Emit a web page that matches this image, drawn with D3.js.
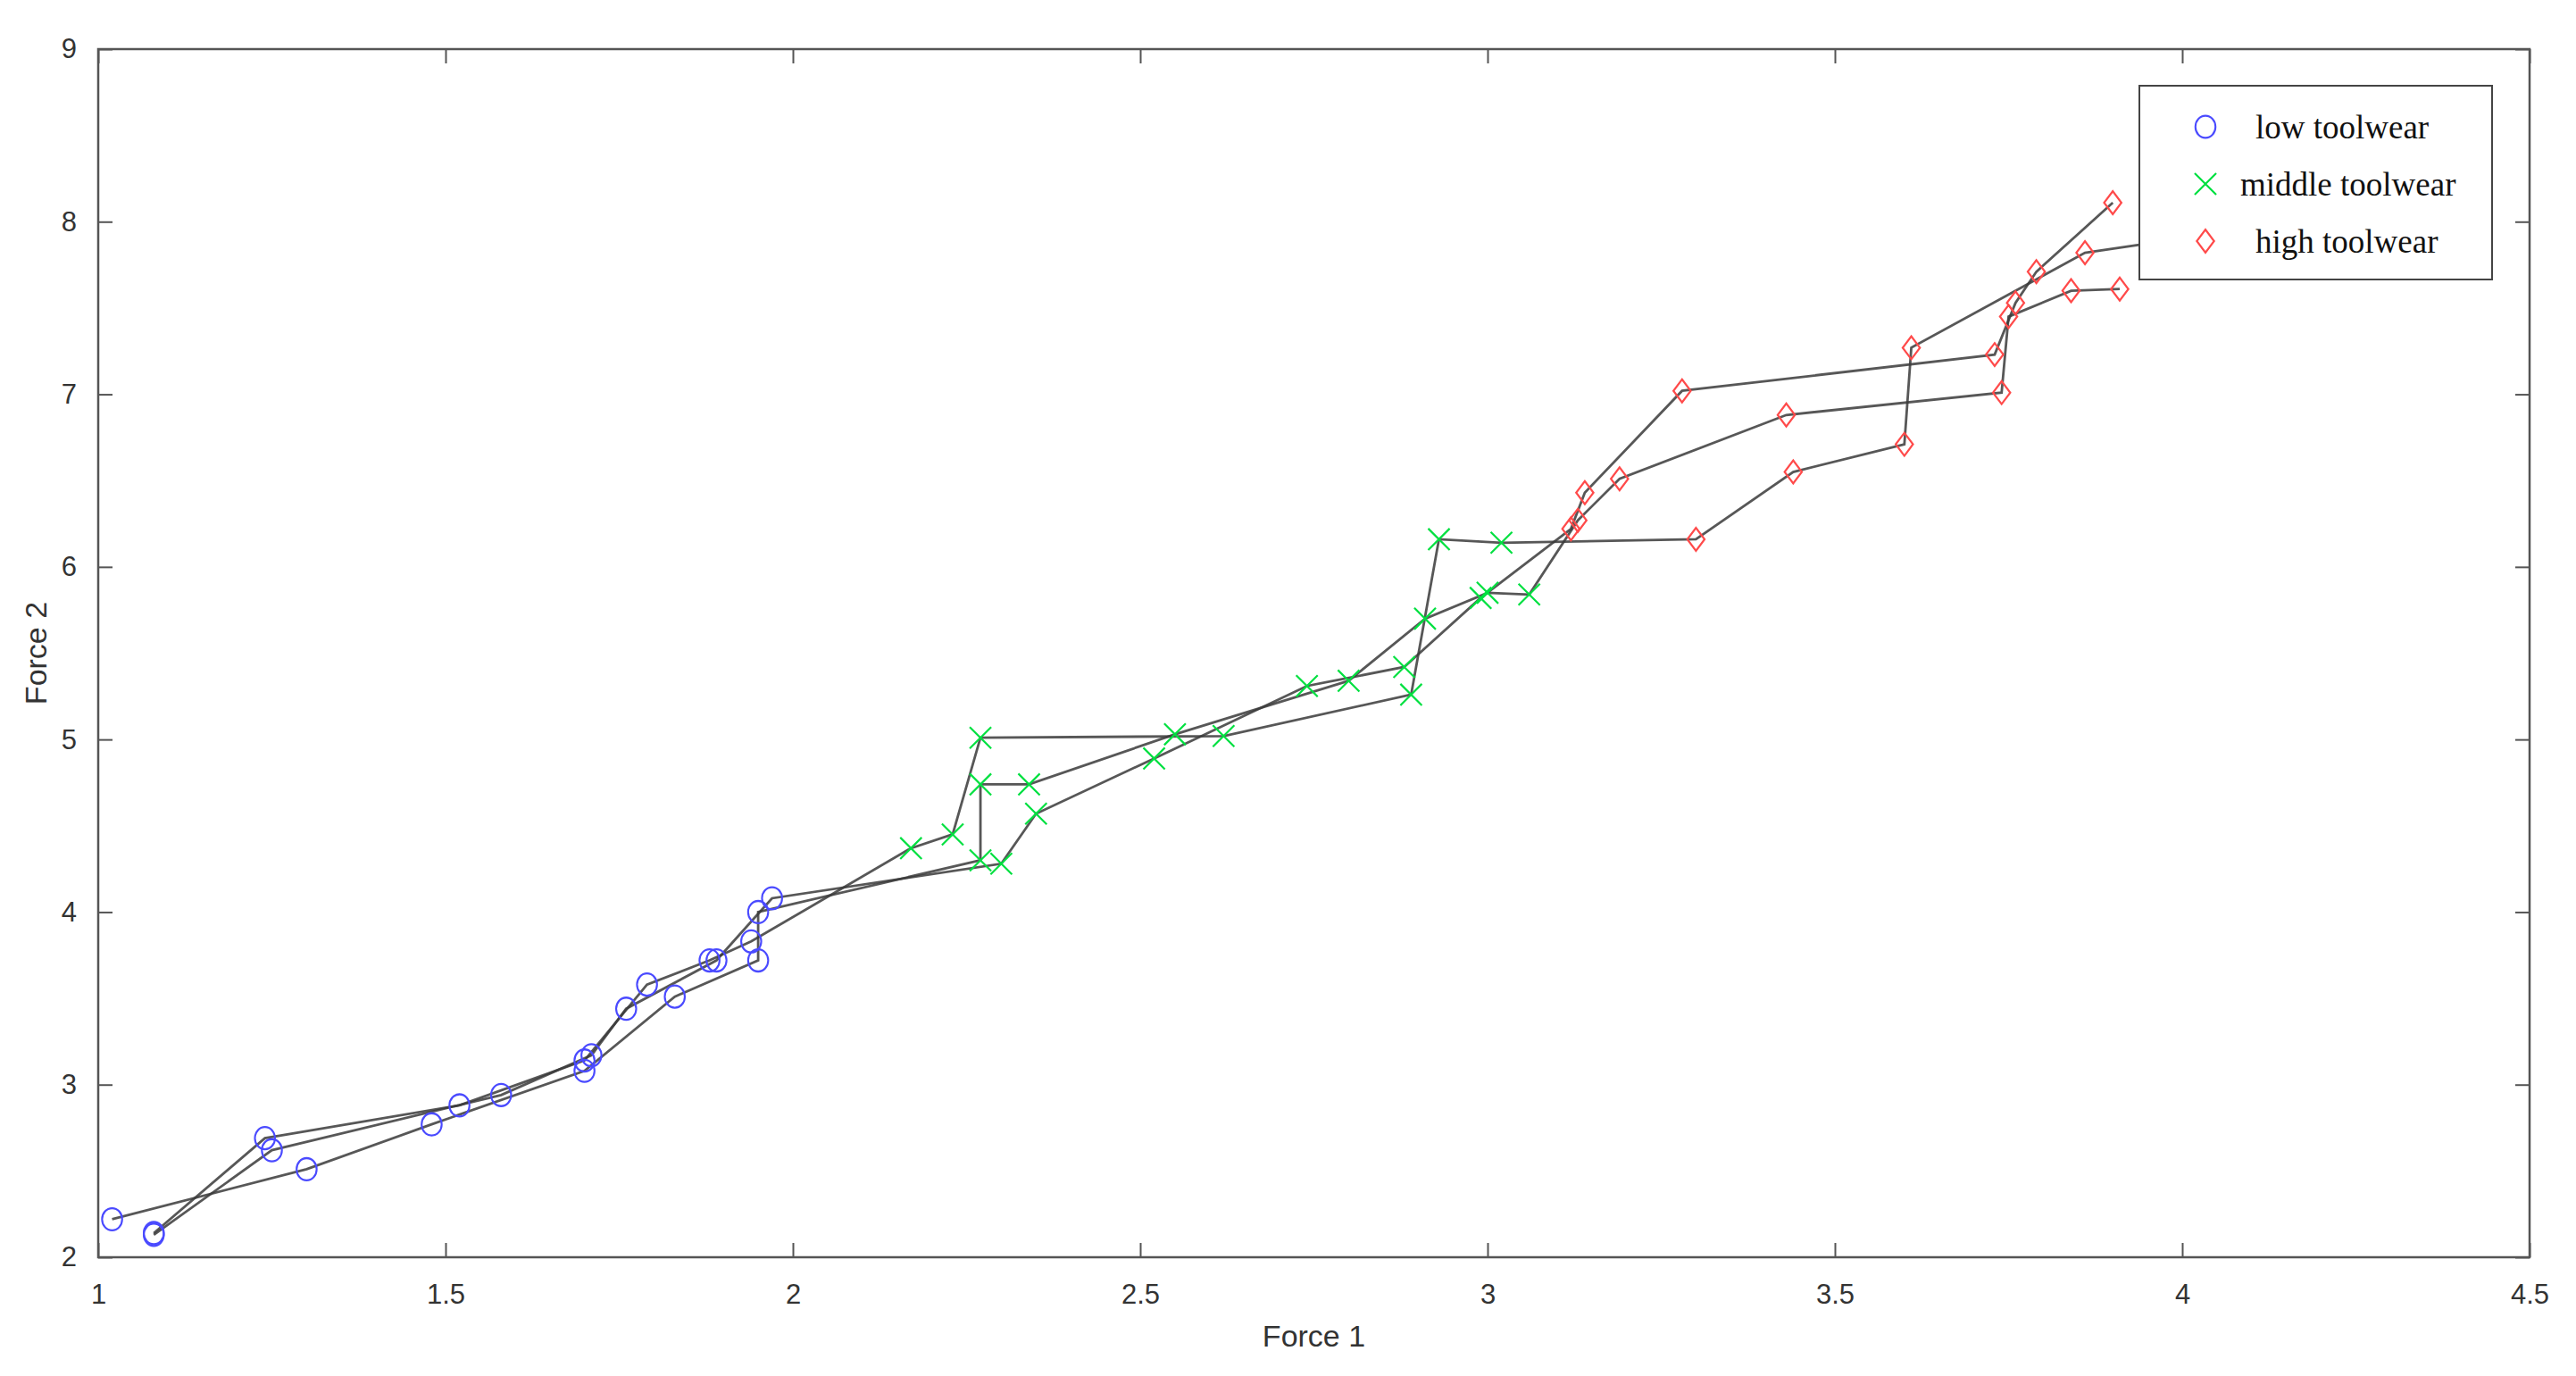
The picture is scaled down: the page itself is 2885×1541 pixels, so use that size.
<!DOCTYPE html>
<html><head><meta charset="utf-8">
<script src="https://cdn.jsdelivr.net/npm/d3@7"></script>
<style>body{margin:0;background:#fff}</style>
</head><body>
<script>
const W = 2885, H = 1541;
const m = {left: 110, right: 52, top: 55, bottom: 133};

// three recorded runs, each passes low -> middle -> high toolwear
const runA = [[1.02,2.22],[1.30,2.51],[1.48,2.77],[1.70,3.08],[1.83,3.51],[1.95,3.72],[1.95,4.00],[2.27,4.30],[2.27,4.74],[2.34,4.74],[2.55,5.03],[2.80,5.34],[2.91,5.70],[3.00,5.85],[3.06,5.84],[3.13,6.27],[3.19,6.51],[3.43,6.88],[3.74,7.01],[3.75,7.45],[3.84,7.60],[3.91,7.61]];
const runB = [[1.08,2.14],[1.24,2.69],[1.52,2.88],[1.70,3.14],[1.79,3.58],[1.88,3.72],[1.94,3.83],[2.17,4.37],[2.23,4.45],[2.27,5.01],[2.62,5.02],[2.89,5.26],[2.93,6.16],[3.02,6.14],[3.30,6.16],[3.44,6.55],[3.60,6.71],[3.61,7.27],[3.86,7.82],[4.08,7.95]];
const runC = [[1.08,2.13],[1.25,2.62],[1.58,2.94],[1.71,3.17],[1.76,3.44],[1.89,3.72],[1.97,4.08],[2.30,4.28],[2.35,4.57],[2.52,4.89],[2.74,5.31],[2.88,5.42],[2.99,5.82],[3.12,6.22],[3.14,6.43],[3.28,7.02],[3.73,7.23],[3.76,7.53],[3.79,7.71],[3.90,8.11]];
const runs = [runA, runB, runC];
// class boundaries on Force 1 (low < 2.05 <= middle < 3.08 <= high)
const lowMax = 2.05, midMax = 3.08;
const xTicks = [1,1.5,2,2.5,3,3.5,4,4.5];
const yTicks = [2,3,4,5,6,7,8,9];
const legendLabels = ["low toolwear","middle toolwear","high toolwear"];
const colors = ["#4a4aff","#00e040","#ff4a4a"];

const svg = d3.select("body").append("svg").attr("width", W).attr("height", H);
const x = d3.scaleLinear().domain([1,4.5]).range([m.left, W-m.right]);
const y = d3.scaleLinear().domain([2,9]).range([H-m.bottom, m.top]);
const iw = W-m.left-m.right, ih = H-m.top-m.bottom;

const ax = (g)=>{g.selectAll(".domain").remove(); g.selectAll("line").attr("stroke","#555").attr("stroke-width",2);
  g.selectAll("text").attr("font-family","Liberation Sans, Arial").attr("font-size",31).attr("fill","#333");};
const fmt = d3.format("~g");
svg.append("g").attr("transform",`translate(0,${H-m.bottom})`).call(d3.axisBottom(x).tickValues(xTicks).tickFormat(fmt).tickSizeInner(-16).tickPadding(30)).call(ax);
svg.append("g").attr("transform",`translate(${m.left},0)`).call(d3.axisLeft(y).tickValues(yTicks).tickFormat(fmt).tickSizeInner(-16).tickPadding(24)).call(ax);
svg.append("g").attr("transform",`translate(0,${m.top})`).call(d3.axisTop(x).tickValues(xTicks).tickFormat("").tickSizeInner(-16)).call(ax);
svg.append("g").attr("transform",`translate(${W-m.right},0)`).call(d3.axisRight(y).tickValues(yTicks).tickFormat("").tickSizeInner(-16)).call(ax);
svg.append("rect").attr("x",m.left).attr("y",m.top).attr("width",iw).attr("height",ih).attr("fill","none").attr("stroke","#555").attr("stroke-width",2.5);

svg.append("clipPath").attr("id","c").append("rect").attr("x",m.left).attr("y",m.top).attr("width",iw).attr("height",ih);
const plot = svg.append("g").attr("clip-path","url(#c)");
const line = d3.line().x(d=>x(d[0])).y(d=>y(d[1]));
plot.selectAll("path.run").data(runs).join("path").attr("class","run").attr("d",line)
  .attr("fill","none").attr("stroke","#3a3a3a").attr("stroke-width",2.8).attr("stroke-opacity",0.85);

const cls = d => d[0] < lowMax ? 0 : d[0] < midMax ? 1 : 2;
const sym = [d3.symbol().type(d3.symbolCircle).size(440), d3.symbol().type(d3.symbolTimes).size(380), d3.symbol().type(d3.symbolSquare).size(230)];
function marker(g, k){
  g.append("path").attr("d", sym[k]()).attr("fill","none").attr("stroke",colors[k]).attr("stroke-width",2.2)
   .attr("transform", k===2 ? "scale(0.9,1.2) rotate(45)" : (k===0 ? "scale(0.95,1.05)" : null));
}
runs.flat().forEach(d=>{
  const g = plot.append("g").attr("transform",`translate(${x(d[0])},${y(d[1])})`);
  marker(g, cls(d));
});

// legend
const lg = svg.append("g").attr("transform","translate(2396,96)");
lg.append("rect").attr("width",395).attr("height",217).attr("fill","#fff").attr("stroke","#444").attr("stroke-width",2);
legendLabels.forEach((t,i)=>{
  const yy = 46 + i*64;
  const g = lg.append("g").attr("transform",`translate(74,${yy})`); marker(g,i);
  lg.append("text").attr("x",t.startsWith("middle") ? 113 : 130).attr("y",yy+13).text(t).attr("font-family","Liberation Serif, Times New Roman").attr("font-size",37).attr("fill","#111");
});

svg.append("text").attr("x",m.left+iw/2).attr("y",1508).attr("text-anchor","middle").text("Force 1")
  .attr("font-family","Liberation Sans, Arial").attr("font-size",34).attr("fill","#333");
svg.append("text").attr("transform",`translate(52,${m.top+ih/2}) rotate(-90)`).attr("text-anchor","middle").text("Force 2")
  .attr("font-family","Liberation Sans, Arial").attr("font-size",34).attr("fill","#333");
</script>
</body></html>
